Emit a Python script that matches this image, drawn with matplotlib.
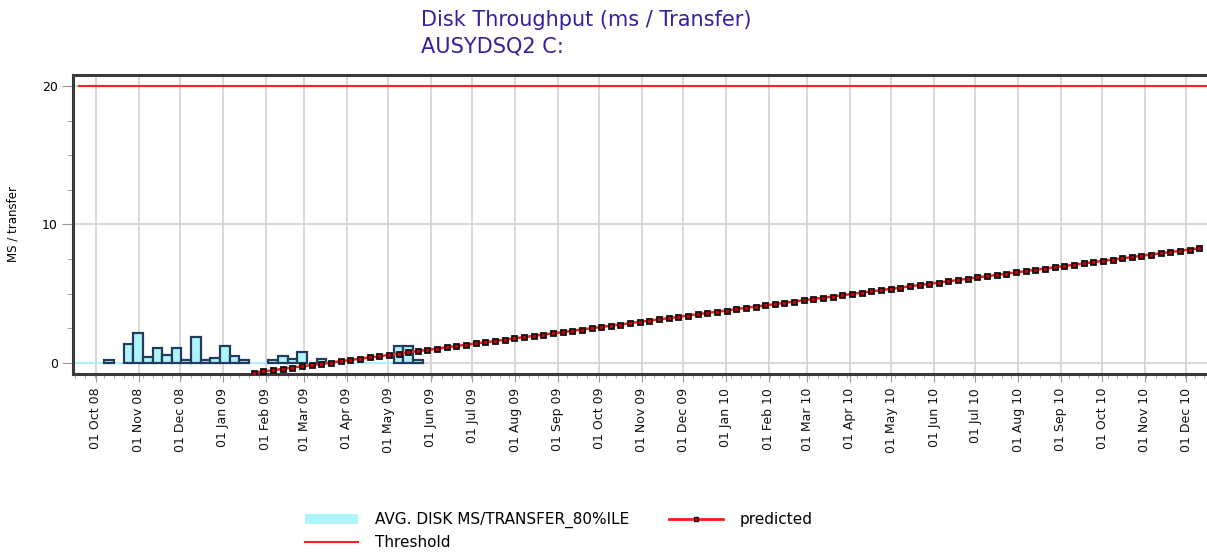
import matplotlib
matplotlib.use('Agg')
import matplotlib.pyplot as plt
import matplotlib.dates as mdates
from matplotlib.ticker import MultipleLocator
from matplotlib.patches import Patch
from matplotlib.lines import Line2D
import numpy as np
import pandas as pd

# Weekly 80th percentile of disk ms/transfer (week starting)
bar_start = '2008-10-07'
bar_values = [0.2, 0.0, 1.4, 2.2, 0.45, 1.05, 0.6, 1.05, 0.2, 1.85, 0.2, 0.35,
              1.2, 0.5, 0.2, 0.0, 0.0, 0.25, 0.5, 0.3, 0.8, 0.0, 0.3, 0.0,
              0.0, 0.0, 0.0, 0.0, 0.0, 0.0, 1.2, 1.2, 0.2]

# Weekly predicted trend
pred_start = '2009-01-23 12:00'
pred_values = [-0.70, -0.61, -0.52, -0.42, -0.33, -0.24, -0.15, -0.06, 0.03, 0.13,
               0.22, 0.31, 0.40, 0.49, 0.58, 0.68, 0.77, 0.86, 0.95, 1.04,
               1.13, 1.23, 1.32, 1.41, 1.50, 1.59, 1.68, 1.78, 1.87, 1.96,
               2.05, 2.14, 2.23, 2.33, 2.42, 2.51, 2.60, 2.69, 2.78, 2.88,
               2.97, 3.06, 3.15, 3.24, 3.33, 3.43, 3.52, 3.61, 3.70, 3.79,
               3.89, 3.98, 4.07, 4.16, 4.25, 4.34, 4.44, 4.53, 4.62, 4.71,
               4.80, 4.89, 4.99, 5.08, 5.17, 5.26, 5.35, 5.44, 5.54, 5.63,
               5.72, 5.81, 5.90, 5.99, 6.09, 6.18, 6.27, 6.36, 6.45, 6.54,
               6.64, 6.73, 6.82, 6.91, 7.00, 7.09, 7.19, 7.28, 7.37, 7.46,
               7.55, 7.64, 7.74, 7.83, 7.92, 8.01, 8.10, 8.19, 8.29]

threshold = 20
threshold_dates = ['2008-09-19', '2010-12-31']

bar_dates = pd.date_range(bar_start, periods=len(bar_values), freq='7D')
pred_dates = pd.date_range(pred_start, periods=len(pred_values), freq='7D')

# weeks with no value are left empty
bars = pd.Series(bar_values, index=bar_dates)
bars_nz = bars[bars > 0]

fig = plt.figure(figsize=(12.07, 5.52), dpi=100)
ax = fig.add_axes([0.0605, 0.3225, 0.944, 0.5417])

# zero line of the bar series
ax.plot([pd.Timestamp('2008-09-14'), bar_dates[-1] + pd.Timedelta(days=7)], [0, 0],
        color='#aef0f6', lw=1.5, zorder=2)
ax.bar(bars_nz.index, bars_nz.values, width=7, align='edge', color='#aef4fb',
       edgecolor='#243c5c', linewidth=1.6, zorder=3)
ax.plot(pd.to_datetime(threshold_dates), [threshold, threshold], color='#ff2020', lw=1.5, zorder=4)
ax.plot(pred_dates, pred_values, color='#ff1a1a', lw=1.8, marker='s', ms=3.6,
        mfc='#cc0000', mec='#111111', mew=1.3, zorder=5)

ax.set_xlim(pd.Timestamp('2008-09-14 08:00'), pd.Timestamp('2010-12-20'))
ax.set_ylim(-0.79, 20.79)

ax.xaxis.set_major_locator(mdates.MonthLocator(bymonthday=1))
ax.xaxis.set_minor_locator(mdates.WeekdayLocator(byweekday=mdates.TU))
ax.xaxis.set_major_formatter(mdates.DateFormatter('%d %b %y'))
ax.yaxis.set_major_locator(MultipleLocator(10))
ax.yaxis.set_minor_locator(MultipleLocator(2.5))

ax.tick_params(axis='x', which='major', labelrotation=90, labelsize=9, length=6,
               color='#999999', pad=4, labelcolor='#111111')
ax.tick_params(axis='x', which='minor', length=3, color='#999999')
ax.tick_params(axis='y', which='major', labelsize=9, length=8, color='#999999', pad=3)
ax.tick_params(axis='y', which='minor', length=4, color='#999999')

ax.grid(True, which='major', color='#d4d4d4', lw=1.3)
ax.set_axisbelow(True)
for s in ax.spines.values():
    s.set_color('#3a3a3a')
    s.set_linewidth(2.2)

ax.set_ylabel('MS / transfer', fontsize=8.5, labelpad=16)

fig.text(0.349, 0.964, 'Disk Throughput (ms / Transfer)', fontsize=15, color='#33229a',
         ha='left', va='center')
fig.text(0.349, 0.915, 'AUSYDSQ2 C:', fontsize=15, color='#33229a', ha='left', va='center')

handles = [Patch(facecolor='#aef4fb', edgecolor='none'),
           Line2D([], [], color='#ff2020', lw=1.5),
           Line2D([], [], color='#ff1a1a', lw=2, marker='s', ms=3.5, mfc='#cc0000', mec='#111111')]
labels = ['AVG. DISK MS/TRANSFER_80%ILE', 'Threshold', 'predicted']
fig.legend(handles, labels, ncol=2, frameon=False, fontsize=11, loc='upper left',
           bbox_to_anchor=(0.2475, 0.083), handlelength=3.5, handletextpad=1.1,
           columnspacing=2.6, labelspacing=0.45, borderaxespad=0)

fig.savefig('out.png', dpi=100)
